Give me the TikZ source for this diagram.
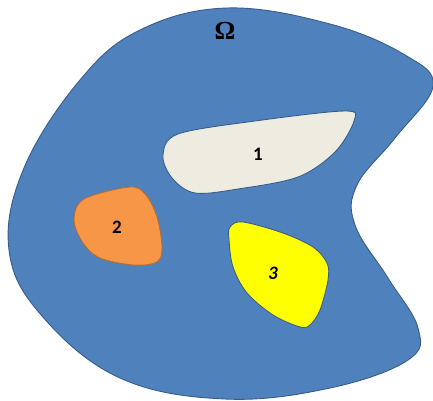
\documentclass[tikz,border=0pt]{standalone}
\usepackage{fontspec}
\newfontfamily\calibri{Carlito}
\newfontfamily\greekserif{Liberation Serif}
\definecolor{cBlue}{HTML}{4F81BD}
\definecolor{cEdge}{HTML}{385D8A}
\definecolor{cStone}{HTML}{EEECE1}
\definecolor{cOrange}{HTML}{F79646}
\definecolor{cRust}{HTML}{B66D31}
\definecolor{cYellow}{HTML}{FFFF00}

\begin{document}
\begin{tikzpicture}[x=1pt,y=-1pt,
    region/.style={draw=cEdge,line width=0.9pt},
    lbl/.style={font=\calibri\bfseries\fontsize{19}{19}\selectfont,text=black}]
  \useasboundingbox (0,0) rectangle (433,400);
  % domain
  \filldraw[region,fill=cBlue] plot[smooth cycle,tension=0.65] coordinates {
    (227,8) (330,24) (405,55) (433,86) (395,138) (357,185) (355,225)
    (388,278) (418,328) (408,360) (330,388) (225,399) (120,378)
    (42,316) (9,250) (24,168) (80,80) (140,30)};
  % inclusions
  \filldraw[region,fill=cStone] plot[smooth cycle,tension=0.55] coordinates {
    (163,155) (178,134) (255,121) (345,111) (354,121) (335,152)
    (298,177) (238,189) (195,193) (172,178)};
  \filldraw[region,draw=cRust,fill=cOrange] plot[smooth cycle,tension=0.55] coordinates {
    (74,220) (84,199) (130,187) (146,195) (157,217) (162,247)
    (157,262) (133,265) (100,258) (83,243)};
  \filldraw[region,fill=cYellow] plot[smooth cycle,tension=0.55] coordinates {
    (230,227) (243,222) (283,233) (313,247) (327,263) (328,280)
    (320,310) (310,325) (300,327) (273,315) (247,293) (233,267) (229,240)};
  % labels
  \node[font=\greekserif\bfseries\fontsize{26}{26}\selectfont] (omega) at (225,31) {Ω};
  \node[lbl] (one) at (258,154) {1};
  \node[lbl] (two) at (117,227) {2};
  \node[lbl] (three) at (273,273) {\itshape 3};
\end{tikzpicture}
\end{document}
